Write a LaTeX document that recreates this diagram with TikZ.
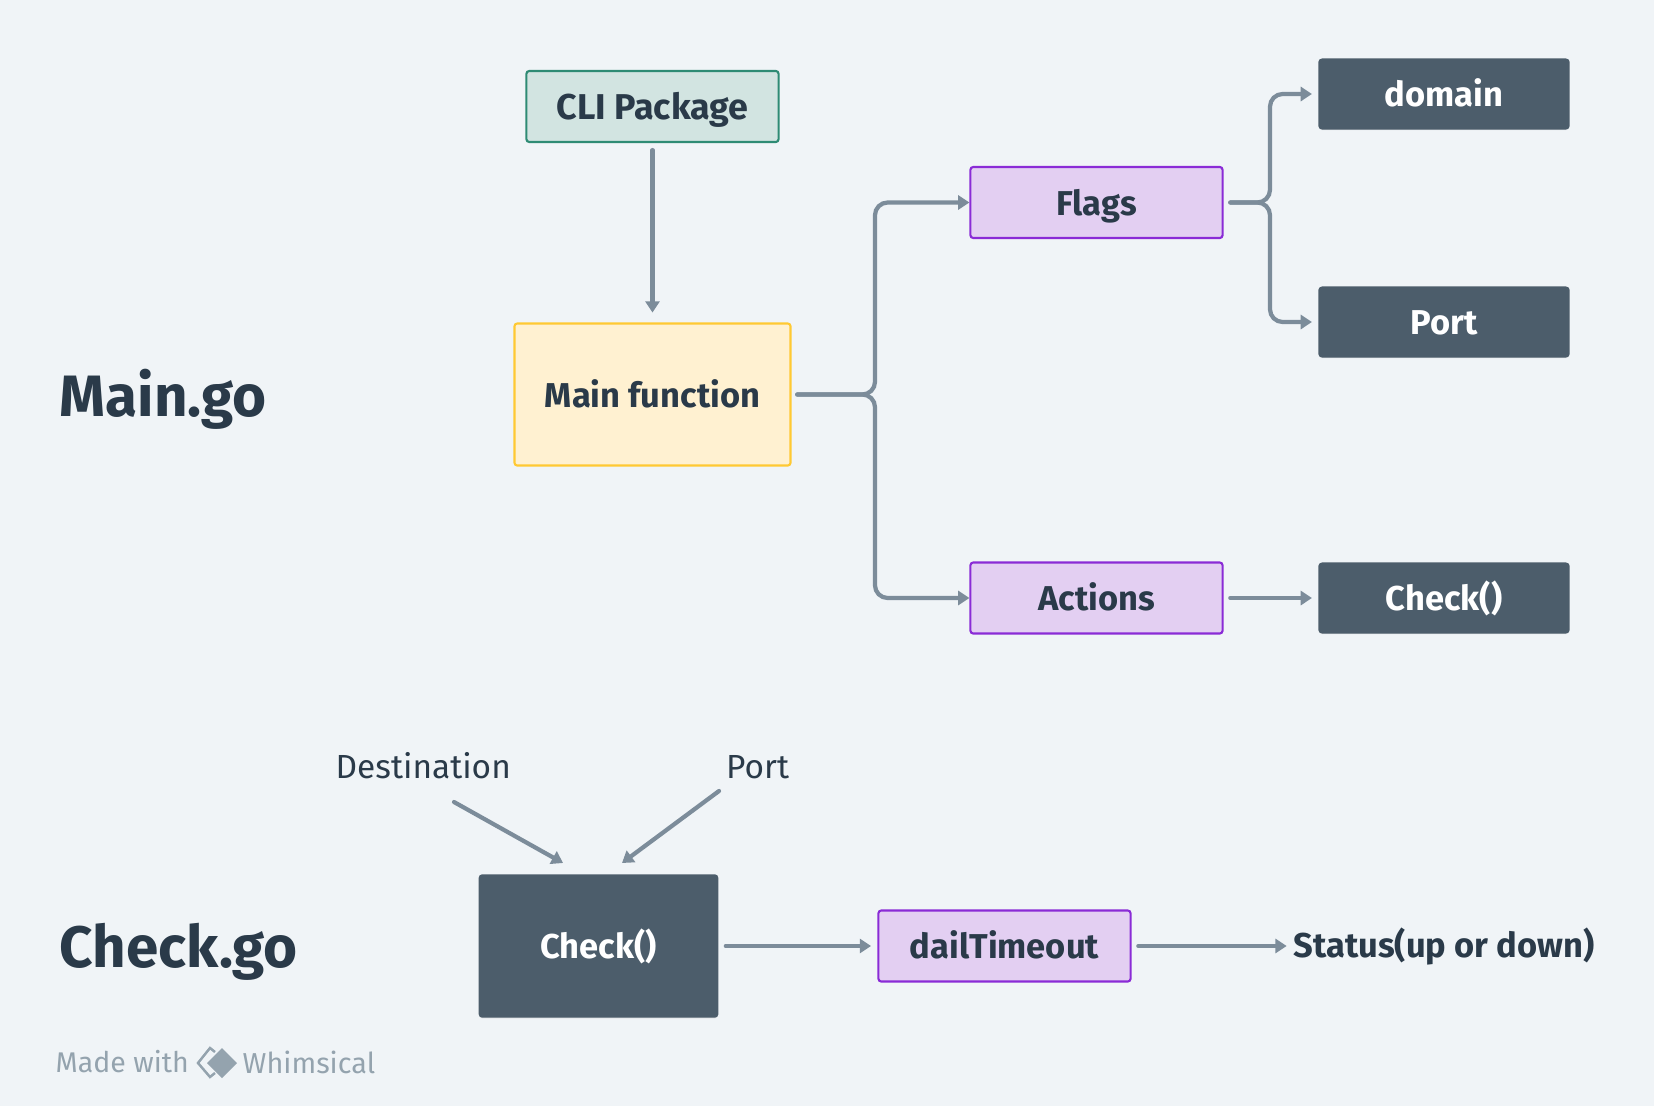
\documentclass[tikz,border=0pt]{standalone}
\usepackage{fontspec}
\setmainfont{Fira Sans}
\usetikzlibrary{arrows.meta,shadows}
\definecolor{pagebg}{HTML}{F0F4F7}
\definecolor{slate}{HTML}{4C5D6B}
\definecolor{inktext}{HTML}{2A3A49}
\definecolor{linkgray}{HTML}{7C8C9A}
\definecolor{markgray}{HTML}{94A3AE}
\definecolor{grapefill}{HTML}{E3CFF2}
\definecolor{grapeline}{HTML}{8A2BD6}
\definecolor{sunfill}{HTML}{FFF1D1}
\definecolor{sunline}{HTML}{FFC933}
\definecolor{mintfill}{HTML}{D2E4E1}
\definecolor{mintline}{HTML}{2E8B74}
\begin{document}
\begin{tikzpicture}[x=0.01cm,y=-0.01cm]
            \tikzstyle{arrow}=[line width=1.2pt,linkgray,->,>={Triangle[length=3.2pt,width=4pt]},rounded corners=3.6pt,line cap=round]
            \tikzstyle{label}=[anchor=west,inner sep=0pt,text=inktext,text height=6.6pt,text depth=0pt]
            \tikzstyle{title}=[label,text height=11.4pt,font=\fontsize{16.6}{20}\selectfont\bfseries]
            \tikzstyle{box}=[draw,line width=0.6pt,rounded corners=0.8pt,minimum height=20.2pt,inner sep=0pt,text=inktext,text height=7.2pt,text depth=0pt,font=\fontsize{9.8}{11}\selectfont\bfseries]
            \tikzstyle{grape}=[box,fill=grapefill,draw=grapeline,minimum width=71.7pt]
            \tikzstyle{slatebox}=[box,fill=slate,draw=slate,text=white,minimum width=70.9pt,minimum height=19.6pt,drop shadow={shadow xshift=0pt,shadow yshift=-0.5pt,opacity=.2}]
            \useasboundingbox[fill=pagebg] (0,0) rectangle (1654,1106);
            % section titles
            \node[title] (maingo) at (59,396) {Main.go};
            \node[title] (checkgo) at (59,947) {Check.go};
            % main.go boxes
            \node[box,fill=mintfill,draw=mintline,minimum width=71.7pt,font=\fontsize{10.2}{11}\selectfont\bfseries] (cli) at (652.5,106.5) {CLI Package};
            \node[box,fill=sunfill,draw=sunline,minimum width=78.5pt,minimum height=40.4pt] (mainfn) at (652.5,394.5) {Main function};
            \node[grape] (flags) at (1096.5,202.5) {Flags};
            \node[grape] (actions) at (1096.5,598) {Actions};
            \node[slatebox] (domain) at (1444,94) {domain};
            \node[slatebox] (port) at (1444,322) {Port};
            \node[slatebox] (checkref) at (1444,598) {Check()};
            % check.go boxes
            \node[slatebox,minimum width=67.6pt,minimum height=40.2pt] (check) at (598.5,946) {Check()};
            \node[grape] (dail) at (1004.5,946) {dailTimeout};
            \node[label,font=\fontsize{9.8}{11}\selectfont\bfseries] (status) at (1293,946) {Status(up or down)};
            \node[label,font=\fontsize{9.5}{11}\selectfont] (destination) at (335,767) {Destination};
            \node[label,font=\fontsize{9.5}{11}\selectfont] (portin) at (725.5,767) {Port};
            % free ends and bends
            \coordinate (trunkup) at (875,202.5);
            \coordinate (trunkdown) at (875,598);
            \coordinate (forkup) at (1270,94);
            \coordinate (forkdown) at (1270,322);
            \coordinate (destfrom) at (454,802);
            \coordinate (destto) at (563,863);
            \coordinate (portfrom) at (719,791);
            \coordinate (portto) at (622,863);
            % connectors
            \draw[arrow,shorten <=2pt,shorten >=2.8pt] (cli) -- (mainfn);
            \draw[arrow,shorten <=1.6pt] (mainfn.east) -| (trunkup) -- (flags.west);
            \draw[arrow,shorten <=1.6pt] (mainfn.east) -| (trunkdown) -- (actions.west);
            \draw[arrow,shorten <=1.9pt,shorten >=1.8pt] (flags.east) -| (forkup) -- (domain.west);
            \draw[arrow,shorten <=1.9pt,shorten >=1.8pt] (flags.east) -| (forkdown) -- (port.west);
            \draw[arrow,shorten <=1.9pt,shorten >=1.8pt] (actions) -- (checkref);
            \draw[arrow,shorten <=2.1pt,shorten >=1.8pt] (check) -- (dail);
            \draw[arrow,shorten <=1.9pt,shorten >=1.8pt] (dail) -- (status);
            \draw[arrow] (destfrom) -- (destto);
            \draw[arrow] (portfrom) -- (portto);
            % watermark
            \node[anchor=west,inner sep=0pt,text=markgray,font=\fontsize{8.1}{10}\selectfont\mdseries] (madewith) at (55,1062) {Made with};
            \node[anchor=west,inner sep=0pt,text=markgray,font=\fontsize{8.2}{10}\selectfont\mdseries] (whimsical) at (242,1062) {Whimsical};
            \fill[markgray] (222,1048) -- (237,1063) -- (222,1078) -- (207,1063) -- cycle;
            \draw[markgray,line width=0.7pt] (215,1052) -- (210,1048) -- (198,1063) -- (210,1077) -- (215,1073);
        \end{tikzpicture}
\end{document}
